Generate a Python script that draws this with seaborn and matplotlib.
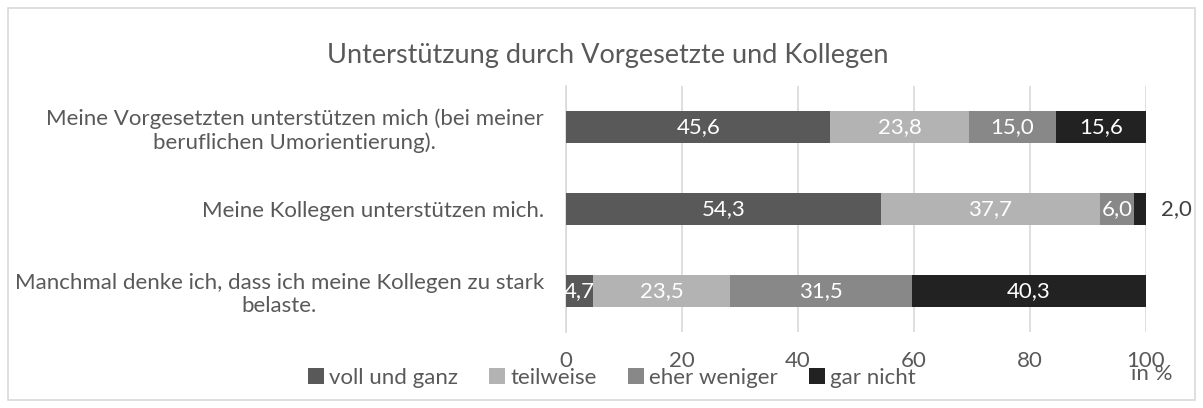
import numpy as np
import pandas as pd
import matplotlib.pyplot as plt
import seaborn as sns
from matplotlib.patches import Patch, Rectangle

# data
statements = [
    "Meine Vorgesetzten unterstützen mich (bei meiner\nberuflichen Umorientierung).",
    "Meine Kollegen unterstützen mich.",
    "Manchmal denke ich, dass ich meine Kollegen zu stark\nbelaste.",
]
answers = ["voll und ganz", "teilweise", "eher weniger", "gar nicht"]
voll_und_ganz = [45.6, 54.3, 4.7]
teilweise = [23.8, 37.7, 23.5]
eher_weniger = [15.0, 6.0, 31.5]
gar_nicht = [15.6, 2.0, 40.3]
x_ticks = [0, 20, 40, 60, 80, 100]

colors = ["#595959", "#b3b3b3", "#888888", "#222222"]
text_gray = "#595959"
fs = 16

sns.set_theme(style="white")
plt.rcParams['font.family'] = ['Lato', 'DejaVu Sans']

df = pd.DataFrame({"Aussage": statements, "voll und ganz": voll_und_ganz,
                   "teilweise": teilweise, "eher weniger": eher_weniger,
                   "gar nicht": gar_nicht})
cum = df[answers].cumsum(axis=1)

fig = plt.figure(figsize=(12.03, 4.08), dpi=100)
W, H = 1203, 408
ax = fig.add_axes([566 / W, 1 - 332 / H, 580 / W, 246 / H])

# stacked bars: draw cumulative totals from the back to the front
for ans, col in reversed(list(zip(answers, colors))):
    sns.barplot(x=cum[ans], y=df["Aussage"], orient="h", color=col,
                width=0.4, ax=ax, saturation=1, linewidth=0, zorder=3)

# value labels
for i in range(len(statements)):
    start = 0
    for ans in answers:
        v = df.loc[i, ans]
        lab = f"{v:.1f}".replace(".", ",")
        if v < 3:
            ax.text(102.6, i, lab, ha="left", va="center", fontsize=fs,
                    color="#404040", zorder=5, clip_on=False)
        else:
            ax.text(start + v / 2, i, lab, ha="center", va="center",
                    fontsize=fs, color="white", zorder=5)
        start += v

ax.set_xlim(0, 100)
ax.set_ylim(2.5, -0.5)
ax.set_xticks(x_ticks)
ax.set_xticklabels([str(t) for t in x_ticks])
ax.xaxis.grid(True, color="#d9d9d9", linewidth=1.2, zorder=0)
ax.yaxis.grid(False)
ax.set_xlabel("")
ax.set_ylabel("")
for s in ["top", "right", "bottom"]:
    ax.spines[s].set_visible(False)
ax.spines["left"].set_color("#d9d9d9")
ax.spines["left"].set_linewidth(1.2)
ax.tick_params(axis="x", length=0, pad=14, labelsize=fs, labelcolor=text_gray)
ax.tick_params(axis="y", length=0, pad=16, labelsize=fs, labelcolor=text_gray)
for t in ax.get_yticklabels():
    t.set_multialignment("center")

fig.text(608 / W, 1 - 56 / H, "Unterstützung durch Vorgesetzte und Kollegen",
         ha="center", va="center", fontsize=19.5, color=text_gray)
fig.text(1152 / W, 1 - 374 / H, "in %", ha="center", va="center",
         fontsize=fs, color=text_gray)

handles = [Patch(facecolor=c, edgecolor="none") for c in colors]
fig.legend(handles, answers, loc="center", bbox_to_anchor=(612 / W, 1 - 378 / H),
           ncol=4, frameon=False, fontsize=fs, labelcolor=text_gray,
           handlelength=0.7, handleheight=0.7, handletextpad=0.25,
           columnspacing=1.4, borderaxespad=0)

fig.patches.append(Rectangle((8 / W, 8 / H), 1187 / W, 392 / H, transform=fig.transFigure,
                             fill=False, edgecolor="#d9d9d9", linewidth=1.2))

fig.savefig("out.png", dpi=100)
